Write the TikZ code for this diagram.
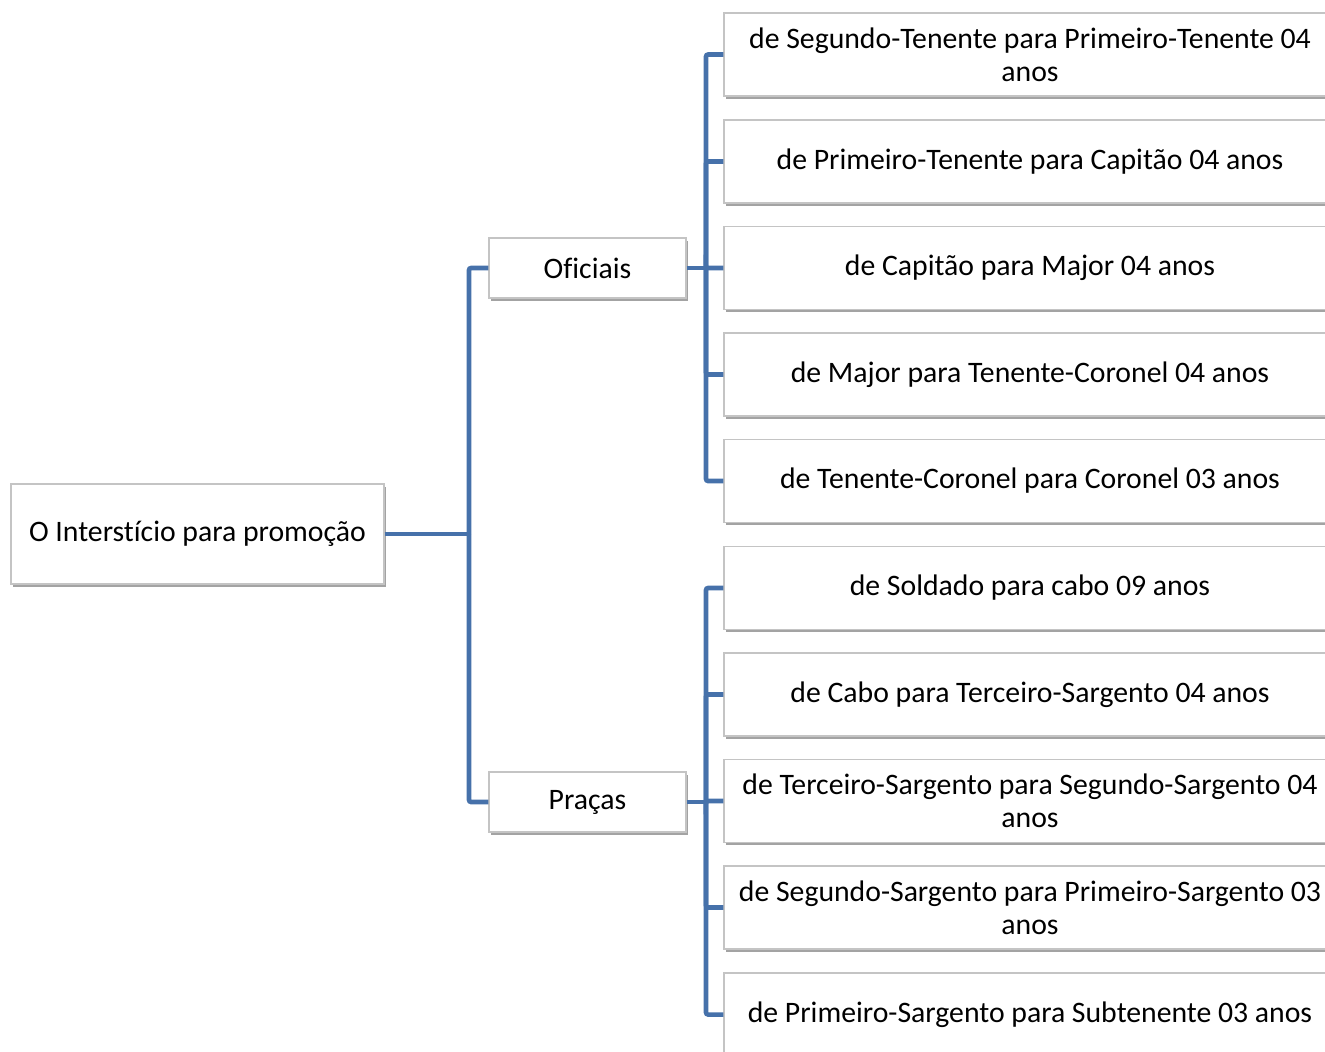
\documentclass[tikz,border=0pt]{standalone}
\usepackage{fontspec}
\setmainfont[RawFeature={-liga;-clig;-calt;-dlig}]{Carlito}
\usetikzlibrary{shadows}
\definecolor{linkblue}{HTML}{4671AA}
\definecolor{boxline}{HTML}{C4C4C4}

\tikzset{
  box/.style={draw=boxline, line width=1.1pt, fill=white, align=center,
    font=\fontsize{22.3}{24.8}\selectfont, inner sep=0pt,
    drop shadow={shadow xshift=1.2pt, shadow yshift=-2pt, fill=black!60, opacity=.6}},
  conn/.style={draw=linkblue, line width=3.4pt, rounded corners=1.5pt}
}

\begin{document}
\begin{tikzpicture}[x=0.75pt,y=-0.75pt]
   \useasboundingbox (0,0) rectangle (1325,1051);
   \clip (0,0) rectangle (1325,1051);
   % left part
   \node[box, minimum width=279.75pt, minimum height=75pt] (root) at (197.5,534) {O Interstício para promoção};
   \node[box, minimum width=147.75pt, minimum height=45pt] (of) at (587.5,268) {Oficiais};
   \node[box, minimum width=147.75pt, minimum height=45pt] (pr) at (587.5,802) {Praças};
   \coordinate (trunk) at (469,534);
   \coordinate (ofbus) at (706,268);
   \coordinate (prbus) at (706,802);
   \draw[conn] (root.east) -- (trunk);
   \draw[conn] (trunk) |- (of.west);
   \draw[conn] (trunk) |- (pr.west);
   \draw[conn] (of.east) -- (ofbus);
   \draw[conn] (pr.east) -- (prbus);
   % leaves
   \foreach \y/\t [count=\i] in {
      54.5/{de Segundo-Tenente para Primeiro-Tenente 04\\anos},
      161.5/{de Primeiro-Tenente para Capitão 04 anos},
      268/{de Capitão para Major 04 anos},
      374.5/{de Major para Tenente-Coronel 04 anos},
      481/{de Tenente-Coronel para Coronel 03 anos}} {
     \node[box, minimum width=459pt, minimum height=62.25pt] (ofl\i) at (1030,\y) {\t};
     \draw[conn] (ofbus) |- (ofl\i.west);
   }
   \foreach \y/\t [count=\i] in {
      588/{de Soldado para cabo 09 anos},
      694.5/{de Cabo para Terceiro-Sargento 04 anos},
      801/{de Terceiro-Sargento para Segundo-Sargento 04\\anos},
      907.5/{de Segundo-Sargento para Primeiro-Sargento 03\\anos},
      1014.5/{de Primeiro-Sargento para Subtenente 03 anos}} {
     \node[box, minimum width=459pt, minimum height=62.25pt] (prl\i) at (1030,\y) {\t};
     \draw[conn] (prbus) |- (prl\i.west);
   }
\end{tikzpicture}
\end{document}
